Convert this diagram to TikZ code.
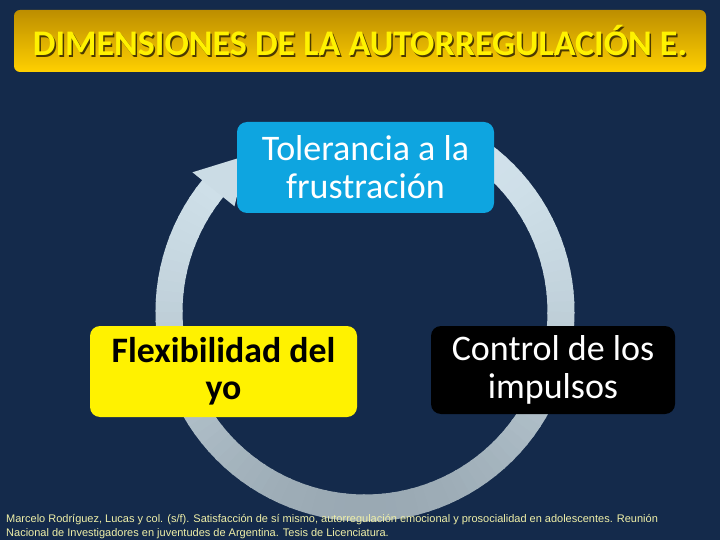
\documentclass[tikz,border=0pt]{standalone}
\usepackage{fontspec}
\setmainfont{Carlito}
\newfontfamily\arialf{Liberation Sans}
\definecolor{bgnavy}{HTML}{142A4B}
\definecolor{ringtop}{HTML}{D2E3EC}
\definecolor{ringbot}{HTML}{9AA9B3}
\definecolor{tolblue}{HTML}{0EA5E0}
\definecolor{goldtop}{HTML}{BD8E00}
\definecolor{goldbot}{HTML}{FFD000}
\definecolor{refcol}{HTML}{F0F0A8}
\tikzset{
  box/.style={rounded corners=10pt, minimum height=91pt, align=center, inner sep=0pt,
    font=\fontsize{36}{38}\selectfont},
}
\begin{document}
\begin{tikzpicture}[x=1pt,y=-1pt]
\useasboundingbox (0,0) rectangle (720,540);
\fill[bgnavy] (0,0) rectangle (720,540);
% ring segments
\foreach \a in {60,57,...,-216}{
  \pgfmathsetmacro{\p}{100*((1-sin(\a-1.5))/2)^1.6}
  \colorlet{segc}{ringbot!\p!ringtop}
  \draw[line width=27pt, segc] ({365+196*cos(\a)},{312-196*sin(\a)}) arc[start angle={-\a}, end angle={-\a+3.6}, radius=196];
}
% arrowhead
\coordinate (wa) at ({365+168*cos(141)},{312-168*sin(141)});
\coordinate (wb) at ({365+222*cos(141)},{312-222*sin(141)});
\coordinate (tip) at ({365+196*cos(127)},{312-196*sin(127)});
\fill[ringtop!88!ringbot] (wa) -- (wb) -- (tip) -- cycle;
% title
\node[rounded corners=6pt, minimum width=692pt, minimum height=62pt, top color=goldtop, bottom color=goldbot, inner sep=0pt] (title) at (360,41) {};
\node[text=black!60!goldtop, font=\fontsize{36}{40}\bfseries\selectfont] (tshadow) at (361.5,42.5) {DIMENSIONES DE LA AUTORREGULACIÓN E.};
\node[text=yellow, font=\fontsize{36}{40}\bfseries\selectfont] (ttext) at (360,41) {DIMENSIONES DE LA AUTORREGULACIÓN E.};
% boxes
\node[box, fill=tolblue, text=white, minimum width=257pt] (tol) at (365.5,167.5) {Tolerancia a la\\frustración};
\node[box, fill=yellow, text=black, minimum width=267pt, font=\fontsize{35.8}{37}\bfseries\selectfont] (flex) at (223.5,371.5) {Flexibilidad del\\yo};
\node[box, fill=black, text=white, minimum width=244pt, minimum height=88pt] (ctrl) at (553,370) {Control de los\\impulsos};
% reference
\node[anchor=north west, text=refcol, align=left, inner sep=0pt, font=\arialf\fontsize{11}{14}\selectfont] (ref) at (6,514) {Marcelo Rodríguez, Lucas y col. (s/f). Satisfacción de sí mismo, autorregulación emocional y prosocialidad en adolescentes. Reunión\\Nacional de Investigadores en juventudes de Argentina. Tesis de Licenciatura.};
\end{tikzpicture}
\end{document}
